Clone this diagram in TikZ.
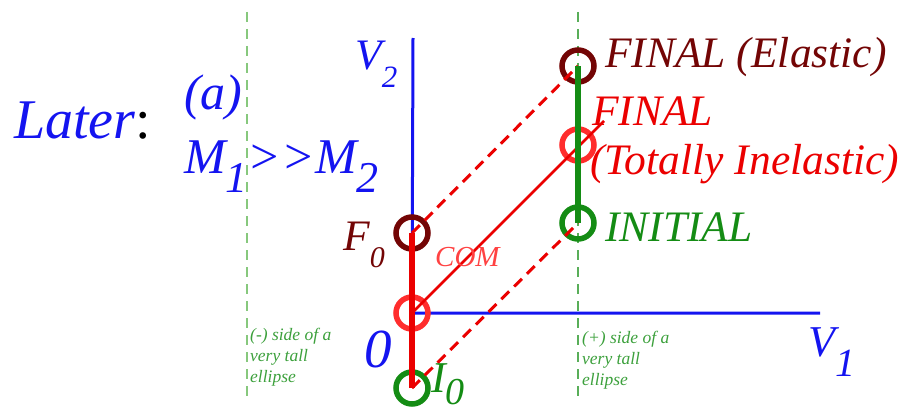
\documentclass[tikz,border=0pt]{standalone}
\usepackage{fontspec}
\setmainfont{Liberation Serif}
\usetikzlibrary{positioning}
\definecolor{axisblue}{RGB}{20,20,240}
\definecolor{darkbrown}{RGB}{115,5,5}
\definecolor{hotred}{RGB}{235,0,0}
\definecolor{ringred}{RGB}{255,45,45}
\definecolor{deepgreen}{RGB}{20,140,20}
\definecolor{palegreen}{RGB}{135,200,125}
\definecolor{notegreen}{RGB}{60,160,60}
\newcommand{\lowsub}[3]{\raisebox{-#2pt}{\fontsize{#1}{#1}\selectfont#3}}

\begin{document}
\begin{tikzpicture}[x=1pt,y=-1pt,
 ring/.style={circle,draw,line width=5.5pt,minimum size=32pt,inner sep=0pt},
 tag/.style={inner sep=0pt,anchor=base west},
 big/.style={tag,font=\itshape\fontsize{43.5}{48}\selectfont},
 axis/.style={draw=axisblue,line width=3pt},
 guide/.style={line width=1.5pt,dash pattern=on 10pt off 7pt},
 bar/.style={line width=6pt},
 trace/.style={draw=hotred,line width=3pt,dash pattern=on 11pt off 7pt},
 note/.style={font=\itshape\fontsize{17.5}{21}\selectfont,text=notegreen,align=left,inner sep=0pt,anchor=north west}
]
\useasboundingbox (0,0) rectangle (905,412);
% guides and axes
\coordinate (negtop) at (247,12);
\coordinate (negbot) at (247,401);
\coordinate (postop) at (578,12);
\coordinate (posbot) at (578,401);
\coordinate (orig) at (412,313);
\coordinate (v2top) at (413,38);
\coordinate (v1end) at (820,313);
\coordinate (diagend) at (604,121);
\draw[guide,palegreen] (negtop) -- (negbot);
\draw[guide,notegreen!85] (postop) -- (posbot);
\draw[axis] (v2top) -- (orig.center) -- (v1end);
% points
\node[ring,draw=deepgreen] (i0) at (412,388) {};
\node[ring,draw=ringred] (com) at (orig) {};
\node[ring,draw=darkbrown] (f0) at (412,233) {};
\node[ring,draw=deepgreen] (init) at (578,223) {};
\node[ring,draw=ringred] (fin) at (578,145) {};
\node[ring,draw=darkbrown] (fel) at (578,66) {};
\draw[trace] (i0.center) -- (init.center);
\draw[trace] (f0.center) -- (fel.center);
\draw[hotred,line width=2.5pt] (com.center) -- (diagend);
\draw[bar,hotred] (i0.center) -- (f0.center);
\draw[bar,deepgreen] (init.center) -- (fel.center);
% labels
\node[tag,text=axisblue,font=\itshape\fontsize{56}{60}\selectfont] (later) at (14,138) {Later\textcolor{black}{\upshape:}};
\node[tag,text=axisblue,font=\itshape\fontsize{50}{54}\selectfont] (case) at (184,110) {(a)};
\node[tag,text=axisblue,font=\itshape\fontsize{50}{54}\selectfont] (mass) at (184,173) {M\lowsub{44}{19}{1}>{}>M\lowsub{44}{19}{2}};
\node[big,text=axisblue] (v2) at (355,70) {V\lowsub{31}{18}{2}};
\node[big,text=axisblue,font=\itshape\fontsize{44}{48}\selectfont] (v1) at (808,356) {V\lowsub{40}{20}{1}};
\node[tag,text=axisblue,font=\itshape\fontsize{55}{60}\selectfont] (zero) at (364,367) {0};
\node[big,text=darkbrown] (f0lab) at (343,250) {F\lowsub{30}{17}{0}};
\node[big,text=deepgreen,font=\itshape\fontsize{44}{48}\selectfont] (i0lab) at (431,392) {I\lowsub{38}{12}{0}};
\node[tag,text=ringred!90,font=\itshape\fontsize{29}{32}\selectfont] (comlab) at (435,266) {COM};
\node[big,text=darkbrown] (fellab) at (605,67) {FINAL (Elastic)};
\node[big,text=hotred] (finlab) at (592,125) {FINAL};
\node[big,text=hotred] (inellab) at (590,174) {(Totally Inelastic)};
\node[big,text=deepgreen] (initlab) at (605,241) {INITIAL};
\node[note] (negnote) at (250,328) {(-) side of a\\very tall\\ellipse};
\node[note] (posnote) at (582,331) {(+) side of a\\very tall\\ellipse};
\end{tikzpicture}
\end{document}
